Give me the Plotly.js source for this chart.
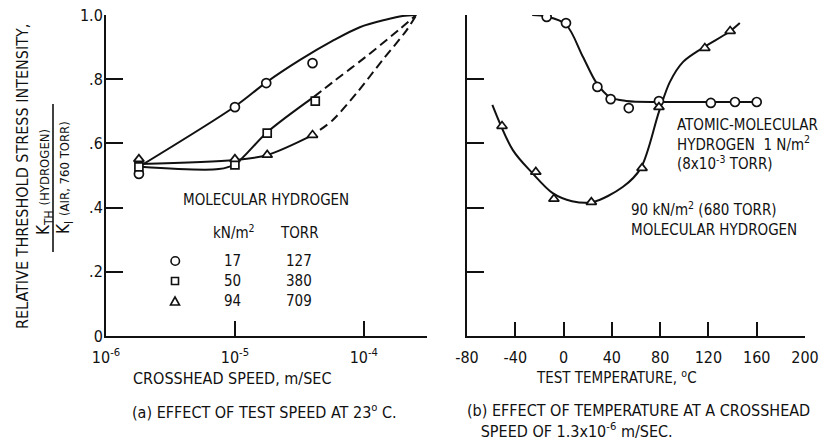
<!DOCTYPE html>
<html>
<head>
<meta charset="utf-8">
<script src="https://cdn.plot.ly/plotly-3.0.1.min.js"></script>
<style>html,body{margin:0;padding:0;background:#fff;}#chart{width:826px;height:442px;}</style>
</head>
<body>
<div id="chart"></div>
<script>
// ---------- Panel (a): effect of test speed at 23 C ----------
const speedTicks = [1e-6, 1e-5, 1e-4];
const speedTickText = ["10<sup>-6</sup>", "10<sup>-5</sup>", "10<sup>-4</sup>"];
const ratioTicks = [0, 0.2, 0.4, 0.6, 0.8, 1.0];
const ratioTickText = ["0", ".2", ".4", ".6", ".8", "1.0"];

// measured points
const p17Speed = [1.8e-6, 1.0e-5, 1.75e-5, 4.0e-5];
const p17Ratio = [0.505, 0.713, 0.788, 0.850];
const p50Speed = [1.8e-6, 1.0e-5, 1.78e-5, 4.2e-5];
const p50Ratio = [0.527, 0.533, 0.632, 0.732];
const p94Speed = [1.8e-6, 1.0e-5, 1.78e-5, 4.0e-5];
const p94Ratio = [0.551, 0.551, 0.564, 0.626];

// faired curves
const c17Speed = [1.85e-6, 1.0e-5, 1.75e-5, 3.2e-5, 5.75e-5, 9.3e-5, 1.5e-4, 2.0e-4, 2.55e-4];
const c17Ratio = [0.530, 0.715, 0.790, 0.860, 0.920, 0.962, 0.986, 0.997, 1.0];
const c50Speed = [1.85e-6, 7.5e-6, 1.0e-5, 1.78e-5, 4.1e-5];
const c50Ratio = [0.527, 0.520, 0.535, 0.635, 0.745];
const c50DashSpeed = [4.1e-5, 5.75e-5, 1.03e-4, 1.86e-4, 2.55e-4];
const c50DashRatio = [0.745, 0.791, 0.869, 0.953, 1.0];
const c94Speed = [1.85e-6, 1.0e-5, 1.78e-5, 4.0e-5];
const c94Ratio = [0.536, 0.548, 0.564, 0.626];
const c94DashSpeed = [4.57e-5, 5.75e-5, 8.8e-5, 1.4e-4, 2.15e-4, 2.55e-4];
const c94DashRatio = [0.642, 0.673, 0.757, 0.860, 0.953, 1.0];

// legend table
const pressKN = ["17", "50", "94"];
const pressTorr = ["127", "380", "709"];

// ---------- Panel (b): effect of temperature ----------
const tempTicks = [-80, -40, 0, 40, 80, 120, 160, 200];
const tempTickText = ["-80", "-40", "0", "40", "80", "120", "160", "200"];
const atomicTemp = [-14, 2, 28, 39, 54, 79, 122, 142, 160];
const atomicRatio = [0.994, 0.975, 0.776, 0.738, 0.710, 0.732, 0.726, 0.729, 0.729];
const molTemp = [-51, -23, -8, 23, 65, 79, 117, 138];
const molRatio = [0.654, 0.511, 0.427, 0.417, 0.523, 0.713, 0.897, 0.950];

const atomicCurveTemp = [-26, -14, 2, 16, 27, 38, 52, 80, 120, 160];
const atomicCurveRatio = [1.0, 0.995, 0.97, 0.87, 0.79, 0.745, 0.732, 0.729, 0.729, 0.729];
const molCurveTemp = [-59, -42, -26, -9, 7, 24, 49, 64, 79, 88, 99, 115, 137, 146];
const molCurveRatio = [0.72, 0.579, 0.508, 0.445, 0.42, 0.417, 0.464, 0.523, 0.698, 0.791, 0.854, 0.897, 0.947, 0.975];

const FONT = "Liberation Sans Narrow, DejaVu Sans Condensed, Arial Narrow, sans-serif";
const W = 826, H = 442;
const BLK = "#111";

function curve(x, y, xa, ya, dash) {
  return {x: x, y: y, xaxis: xa, yaxis: ya, mode: "lines", type: "scatter",
    line: {color: BLK, width: 2, shape: "spline", smoothing: 0.9, dash: dash || "solid"},
    hoverinfo: "skip", showlegend: false};
}
function pts(x, y, xa, ya, sym, size) {
  return {x: x, y: y, xaxis: xa, yaxis: ya, mode: "markers", type: "scatter",
    marker: {symbol: sym, size: size, color: "#fff", line: {color: BLK, width: 1.7}},
    showlegend: false};
}

const traces = [
  curve(c17Speed, c17Ratio, "x", "y"),
  curve(c50Speed, c50Ratio, "x", "y"),
  curve(c50DashSpeed, c50DashRatio, "x", "y", "9px,5px"),
  curve(c94Speed, c94Ratio, "x", "y"),
  curve(c94DashSpeed, c94DashRatio, "x", "y", "9px,5px"),
  pts(p17Speed, p17Ratio, "x", "y", "circle", 9),
  pts(p50Speed, p50Ratio, "x", "y", "square", 8),
  pts(p94Speed, p94Ratio, "x", "y", "triangle-up", 9),
  curve(atomicCurveTemp, atomicCurveRatio, "x2", "y2"),
  curve(molCurveTemp, molCurveRatio, "x2", "y2"),
  pts(atomicTemp, atomicRatio, "x2", "y2", "circle", 9),
  pts(molTemp, molRatio, "x2", "y2", "triangle-up", 9)
];

function px(x) { return x / W; }
function py(y) { return 1 - y / H; }
function ann(text, x, y, opts, size) {
  return Object.assign({text: text, x: px(x), y: py(y), xref: "paper", yref: "paper",
    showarrow: false, xanchor: "center", yanchor: "middle",
    font: {family: FONT, size: size || 16, color: BLK}}, opts || {});
}

const annotations = [
  ann("RELATIVE THRESHOLD STRESS INTENSITY,", 22, 177, {textangle: -90}, 16),
  ann("K<sub>TH</sub> <span style='font-size:13px'>(HYDROGEN)</span>", 44, 182, {textangle: -90}, 17),
  ann("K<sub>I</sub> <span style='font-size:13px'>(AIR, 760 TORR)</span>", 64, 178, {textangle: -90}, 17),
  ann("CROSSHEAD SPEED, m/SEC", 232, 378, {}, 16),
  ann("(a) EFFECT OF TEST SPEED AT 23<sup>o</sup> C.", 264, 411, {}, 16),
  ann("MOLECULAR HYDROGEN", 266, 200, {}, 15),
  ann("kN/m<sup>2</sup>", 234, 232, {}, 15),
  ann("TORR", 299, 233, {}, 15),
  ann("TEST TEMPERATURE, <sup>o</sup>C", 616, 377, {}, 15),
  ann("(b) EFFECT OF TEMPERATURE AT A CROSSHEAD<br>   SPEED OF 1.3x10<sup>-6</sup> m/SEC.", 465, 421, {xanchor: "left", align: "left"}, 16),
  ann("ATOMIC-MOLECULAR<br>HYDROGEN  1 N/m<sup>2</sup><br>(8x10<sup>-3</sup> TORR)", 675, 145, {xanchor: "left", align: "left"}, 15),
  ann("90 kN/m<sup>2</sup> (680 TORR)<br>MOLECULAR HYDROGEN", 629, 219, {xanchor: "left", align: "left"}, 15)
];
const rowY = [261, 281, 301];
pressKN.forEach((v, i) => annotations.push(ann(v, 232, rowY[i], {}, 15)));
pressTorr.forEach((v, i) => annotations.push(ann(v, 299, rowY[i], {}, 15)));

const shapes = [
  // fraction bar of the y title
  {type: "line", xref: "paper", yref: "paper", x0: px(53), x1: px(53), y0: py(104), y1: py(252), line: {color: BLK, width: 1.6}},
  // legend keys
  {type: "circle", xref: "paper", yref: "paper", x0: px(171), x1: px(179.5), y0: py(256.8), y1: py(265.3), line: {color: BLK, width: 1.6}},
  {type: "rect", xref: "paper", yref: "paper", x0: px(171.5), x1: px(178.5), y0: py(277.5), y1: py(284.5), line: {color: BLK, width: 1.6}},
  {type: "path", xref: "paper", yref: "paper",
   path: `M ${px(170.5)} ${py(305)} L ${px(179.5)} ${py(305)} L ${px(175)} ${py(297)} Z`, line: {color: BLK, width: 1.6}}
];

const yDomain = [1 - 336 / H, 1 - 15 / H];
const axisCommon = {showgrid: false, zeroline: false, showline: true, linecolor: BLK, linewidth: 2,
  ticks: "inside", tickcolor: BLK, tickwidth: 2, tickfont: {family: FONT, size: 16, color: BLK}, fixedrange: true};

const layout = {
  width: W, height: H, margin: {l: 0, r: 0, t: 0, b: 0},
  paper_bgcolor: "#fff", plot_bgcolor: "rgba(0,0,0,0)",
  showlegend: false, font: {family: FONT, color: BLK},
  xaxis: Object.assign({}, axisCommon, {type: "log", domain: [106 / W, 427 / W], range: [-6, -3.51],
    tickvals: speedTicks, ticktext: speedTickText, ticklen: 15, anchor: "y", ticklabelstandoff: 6}),
  yaxis: Object.assign({}, axisCommon, {domain: yDomain, range: [0, 1.0], tickvals: ratioTicks, ticktext: ratioTickText,
    ticklen: 17, anchor: "x", ticklabelstandoff: -2}),
  xaxis2: Object.assign({}, axisCommon, {domain: [467 / W, 805 / W], range: [-80, 200],
    tickvals: tempTicks, ticktext: tempTickText, ticklen: 14, anchor: "y2", ticklabelstandoff: 6}),
  yaxis2: Object.assign({}, axisCommon, {domain: yDomain, range: [0, 1.0], tickvals: ratioTicks, ticklen: 17,
    showticklabels: false, anchor: "x2"}),
  annotations: annotations, shapes: shapes
};

Plotly.newPlot("chart", traces, layout, {displayModeBar: false, staticPlot: true});
</script>
</body>
</html>
